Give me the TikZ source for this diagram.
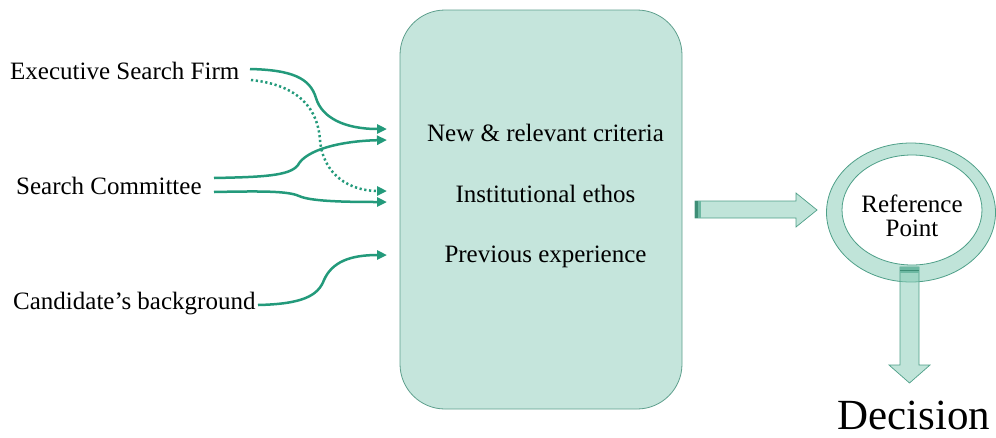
\documentclass[tikz,border=0pt]{standalone}
\usepackage{fontspec}
\setmainfont{Liberation Serif}
\usetikzlibrary{arrows.meta}
\definecolor{boxfill}{HTML}{C5E5DC}
\definecolor{boxline}{HTML}{5E9F8D}
\definecolor{linkcol}{HTML}{239A7B}
\definecolor{ringfill}{HTML}{C0E4D9}
\definecolor{ringline}{HTML}{4E9F88}
\definecolor{blockfill}{HTML}{81C9B3}
\definecolor{stripedark}{HTML}{3E8E76}
\definecolor{stripemid}{HTML}{6DB8A2}
\begin{document}
\begin{tikzpicture}[x=1pt,y=-1pt,
  lbl/.style={font=\fontsize{25}{30}\selectfont, inner sep=0pt},
  link/.style={draw=linkcol, line width=2.5pt, -{Triangle[length=10pt,width=9pt]}},
  dotlink/.style={link, dash pattern=on 2.2pt off 2.6pt},
  block/.style={fill=blockfill, fill opacity=0.5, draw=ringline, line width=0.7pt, draw opacity=1}]
\useasboundingbox (0,0) rectangle (996,437);

% central box with its three criteria
\node[draw=boxline, fill=boxfill, line width=0.8pt, rounded corners=45pt,
      minimum width=282pt, minimum height=399pt] (box) at (541,209.5) {};
\node[lbl, anchor=base] (crit1) at (545.5,141) {New \& relevant criteria};
\node[lbl, anchor=base] (crit2) at (545.5,202) {Institutional ethos};
\node[lbl, anchor=base] (crit3) at (545.5,262) {Previous experience};

% sources on the left
\node[lbl, anchor=base west] (esf) at (10,79) {Executive Search Firm};
\node[lbl, anchor=base west] (sc) at (16,194) {Search Committee};
\node[lbl, anchor=base west] (cb) at (13,309) {Candidate’s background};

\coordinate (esf-a) at (250,69);
\coordinate (esf-b) at (251,80);
\coordinate (sc-a) at (214,178);
\coordinate (sc-b) at (214,192);
\coordinate (cb-a) at (258,305);
\coordinate (in1) at (387,129);
\coordinate (in2) at (387,140);
\coordinate (in3) at (387,191);
\coordinate (in4) at (387,202);
\coordinate (in5) at (387,255);

\draw[link] (esf-a) .. controls (292,70) and (310,78) .. (316,98)
                   .. controls (322,118) and (345,129) .. (in1);
\draw[dotlink] (esf-b) .. controls (300,85) and (318,110) .. (320,140)
                      .. controls (323,175) and (350,191) .. (in3);
\draw[link] (sc-a) .. controls (262,177) and (290,176) .. (298,165)
                  .. controls (306,150) and (340,141) .. (in2);
\draw[link] (sc-b) .. controls (262,191) and (288,191) .. (299,196)
                  .. controls (310,201) and (340,202) .. (in4);
\draw[link] (cb-a) .. controls (302,304) and (318,296) .. (324,280)
                  .. controls (332,262) and (350,255) .. (in5);

% reference point ring
\fill[ringfill, even odd rule] (911,212.5) ellipse [x radius=84.5, y radius=69.5]
                               (912,210) ellipse [x radius=70, y radius=55];
\draw[ringline, line width=0.8pt] (911,212.5) ellipse [x radius=84.5, y radius=69.5];
\draw[ringline, line width=0.8pt] (912,210) ellipse [x radius=70, y radius=55];
\node[lbl, anchor=base] (refa) at (912,212) {Reference};
\node[lbl, anchor=base] (refb) at (912,236) {Point};

% block arrow from the box to the ring
\path[block] (695,201) -- (796,201) -- (796,193) -- (817,210) -- (796,227)
             -- (796,218) -- (695,218) -- cycle;
\fill[stripedark] (695,201) rectangle (698,218);
\fill[stripemid] (698,201) rectangle (701,218);

% block arrow from the ring down to the decision
\path[block] (900,267) -- (919,267) -- (919,365) -- (930,365) -- (909.5,383)
             -- (889,365) -- (900,365) -- cycle;
\fill[stripemid] (900,267) rectangle (919,273);
\draw[stripedark, line width=0.8pt] (900,270) -- (919,270);

\node[anchor=base, font=\fontsize{43}{48}\selectfont, inner sep=0pt] (dec) at (914,429) {Decision};
\end{tikzpicture}
\end{document}
